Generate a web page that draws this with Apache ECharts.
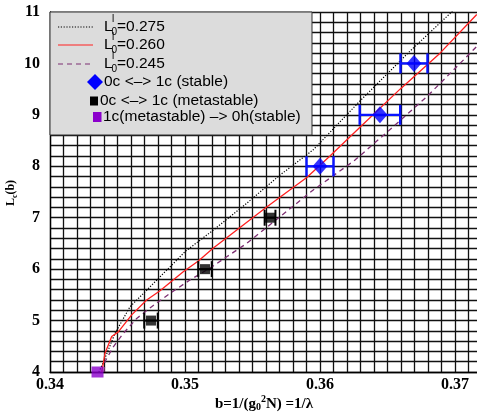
<!DOCTYPE html>
<html>
<head>
<meta charset="utf-8">
<script src="https://cdn.jsdelivr.net/npm/echarts@6/dist/echarts.min.js"></script>
<style>
html, body { margin: 0; padding: 0; background: #fff; }
#chart { width: 477px; height: 413px; }
</style>
</head>
<body>
<div id="chart"></div>
<script>
// Axis tick labels
const xTickLabels = [0.34, 0.35, 0.36, 0.37];
const yTickLabels = [4, 5, 6, 7, 8, 9, 10, 11];

// Critical length L_c(b) curves, one per L_0^l value: [b, L_c]
const curve275 = [
  [0.34362, 4.00], [0.34392, 4.17], [0.34481, 4.75], [0.34593, 5.27],
  [0.34716, 5.59], [0.34815, 5.85], [0.34914, 6.11], [0.35000, 6.34],
  [0.35210, 6.76], [0.35457, 7.28], [0.35704, 7.83], [0.35950, 8.32],
  [0.36296, 9.27], [0.36667, 10.24], [0.36963, 10.97], [0.37050, 11.20]
];
const curve260 = [
  [0.34383, 4.00], [0.34395, 4.17], [0.34407, 4.36], [0.34457, 4.69],
  [0.34506, 4.78], [0.34605, 5.11], [0.34716, 5.40], [0.34815, 5.58],
  [0.34987, 5.95], [0.35099, 6.16], [0.35210, 6.41], [0.35333, 6.66],
  [0.35605, 7.21], [0.35902, 7.78], [0.36074, 8.20], [0.36296, 8.76],
  [0.36593, 9.50], [0.36889, 10.20], [0.37161, 10.95]
];
const curve245 = [
  [0.34400, 4.00], [0.34407, 4.20], [0.34469, 4.49], [0.34543, 4.75],
  [0.34642, 5.04], [0.34753, 5.27], [0.34889, 5.53], [0.35037, 5.79],
  [0.35185, 6.02], [0.35309, 6.24], [0.35457, 6.50], [0.35704, 7.02],
  [0.35950, 7.54], [0.36074, 7.77], [0.36259, 8.12], [0.36543, 8.77],
  [0.36790, 9.35], [0.36889, 9.61], [0.37037, 10.00], [0.37161, 10.33]
];

// 0c <-> 1c (stable): b, L_c, half-width of the b uncertainty
const stableB = [0.36000, 0.36444, 0.36696];
const stableL = [8, 9, 10];
const stableErr = [0.0010, 0.0015, 0.0010];

// 0c <-> 1c (metastable)
const metaB = [0.34748, 0.35148, 0.35630];
const metaL = [5, 6, 7];
const metaErr = [0.0005, 0.0005, 0.0004];

// 1c(metastable) -> 0h(stable)
const decayB = [0.34352];
const decayL = [4];

const serifBold = { fontFamily: 'Liberation Serif', fontWeight: 'bold', color: '#000' };

function zip(a, b, c) { return a.map((v, i) => c ? [v, b[i], c[i]] : [v, b[i]]); }

function errorBars(color, width, capHalf) {
  return function (params, api) {
    const b = api.value(0), L = api.value(1), e = api.value(2);
    const p1 = api.coord([b - e, L]);
    const p2 = api.coord([b + e, L]);
    const st = { stroke: color, lineWidth: width };
    return {
      type: 'group',
      children: [
        { type: 'line', shape: { x1: p1[0], y1: p1[1], x2: p2[0], y2: p2[1] }, style: st },
        { type: 'line', shape: { x1: p1[0], y1: p1[1] - capHalf, x2: p1[0], y2: p1[1] + capHalf }, style: st },
        { type: 'line', shape: { x1: p2[0], y1: p2[1] - capHalf, x2: p2[0], y2: p2[1] + capHalf }, style: st }
      ]
    };
  };
}

const isTick = (v, list) => list.some(t => Math.abs(t - v) < 1e-7);

const LZ = 200;
const legendFont = '15.5px "Liberation Sans"';
const smallFont = '10px "Liberation Sans"';
const rowY = [27, 45, 64, 82, 101, 117];
const lineLabels = ['=0.275', '=0.260', '=0.245'];
const lineStyles = [
  { stroke: '#000', lineWidth: 1.2, lineDash: [1.2, 1.6] },
  { stroke: '#ff2020', lineWidth: 1.2 },
  { stroke: '#7d2f72', lineWidth: 1.2, lineDash: [5, 4] }
];

const legendChildren = [
  { type: 'rect', z: LZ, shape: { x: 50, y: 12, width: 262, height: 123 },
    style: { fill: '#dcdcdc', stroke: '#333', lineWidth: 1 } }
];
lineLabels.forEach((lab, i) => {
  const y = rowY[i];
  legendChildren.push(
    { type: 'line', z: LZ + 1, shape: { x1: 58, y1: y, x2: 93, y2: y }, style: lineStyles[i] },
    { type: 'text', z: LZ + 1, style: { x: 104, y: y, text: 'L', font: legendFont, fill: '#000', verticalAlign: 'middle' } },
    { type: 'text', z: LZ + 1, style: { x: 111.5, y: y + 5, text: '0', font: smallFont, fill: '#000', verticalAlign: 'middle' } },
    { type: 'text', z: LZ + 1, style: { x: 112, y: y - 8, text: 'l', font: smallFont, fill: '#000', verticalAlign: 'middle' } },
    { type: 'text', z: LZ + 1, style: { x: 117, y: y, text: lab, font: legendFont, fill: '#000', verticalAlign: 'middle' } }
  );
});
legendChildren.push(
  { type: 'polygon', z: LZ + 1, shape: { points: [[95, 74], [103, 82], [95, 90], [87, 82]] }, style: { fill: '#0000ff' } },
  { type: 'text', z: LZ + 1, style: { x: 104, y: rowY[3], text: '0c <–> 1c (stable)', font: legendFont, fill: '#000', verticalAlign: 'middle' } },
  { type: 'rect', z: LZ + 1, shape: { x: 90, y: rowY[4] - 4.5, width: 8, height: 9 }, style: { fill: '#000' } },
  { type: 'text', z: LZ + 1, style: { x: 100, y: rowY[4], text: '0c <–> 1c (metastable)', font: legendFont, fill: '#000', verticalAlign: 'middle' } },
  { type: 'rect', z: LZ + 1, shape: { x: 93, y: rowY[5] - 5, width: 8.5, height: 10 }, style: { fill: '#8b00cc' } },
  { type: 'text', z: LZ + 1, style: { x: 103, y: rowY[5], text: '1c(metastable) –> 0h(stable)', font: legendFont, fill: '#000', verticalAlign: 'middle' } }
);

const gridLine = { show: true, lineStyle: { color: '#111', width: 1.3 } };

const chart = echarts.init(document.getElementById('chart'), null, { renderer: 'canvas' });
chart.setOption({
  animation: false,
  backgroundColor: '#fff',
  grid: { left: 50, top: 12, width: 432, height: 360, containLabel: false, outerBoundsMode: 'none' },
  xAxis: {
    type: 'value', min: 0.34, max: 0.372, interval: 0.001,
    axisLine: { show: true, lineStyle: { color: '#000', width: 1.3 } },
    axisTick: { show: false },
    splitLine: gridLine,
    axisLabel: {
      interval: 0, margin: 5, fontSize: 16, ...serifBold,
      showMinLabel: true, showMaxLabel: true, hideOverlap: false,
      formatter: v => isTick(v, xTickLabels) ? v.toFixed(2) : ''
    }
  },
  yAxis: {
    type: 'value', min: 4, max: 11, interval: 0.2,
    axisLine: { show: true, lineStyle: { color: '#000', width: 1.3 } },
    axisTick: { show: false },
    splitLine: gridLine,
    axisLabel: {
      interval: 0, margin: 10, fontSize: 16, ...serifBold,
      showMinLabel: true, showMaxLabel: true, hideOverlap: false,
      formatter: v => isTick(v, yTickLabels) ? String(Math.round(v)) : ''
    }
  },
  series: [
    { type: 'line', data: curve275, showSymbol: false, z: 3,
      lineStyle: { color: '#000', width: 1.2, type: [1.2, 1.6] } },
    { type: 'line', data: curve260, showSymbol: false, z: 3,
      lineStyle: { color: '#ff2020', width: 1.3 } },
    { type: 'line', data: curve245, showSymbol: false, z: 3,
      lineStyle: { color: '#7d2f72', width: 1.3, type: [5, 4] } },
    { type: 'custom', data: zip(stableB, stableL, stableErr), z: 4,
      encode: { x: 0, y: 1 }, renderItem: errorBars('#0a14ff', 2.4, 10) },
    { type: 'custom', data: zip(metaB, metaL, metaErr), z: 4,
      encode: { x: 0, y: 1 }, renderItem: errorBars('#000', 2, 8) },
    { type: 'scatter', data: zip(stableB, stableL), z: 5,
      symbol: 'diamond', symbolSize: [15, 17], itemStyle: { color: '#0000ff' } },
    { type: 'scatter', data: zip(metaB, metaL), z: 5,
      symbol: 'rect', symbolSize: 10, itemStyle: { color: '#000' } },
    { type: 'scatter', data: zip(decayB, decayL), z: 5, clip: false,
      symbol: 'rect', symbolSize: [12, 11], itemStyle: { color: '#8b00cc' } }
  ],
  graphic: [
    { type: 'group', z: LZ, children: legendChildren },
    {
      type: 'text', z: LZ, x: 264, y: 404,
      style: {
        text: '{m|b=1/(g}{sub|0}{sup|2}{m|N) =1/λ}',
        align: 'center', verticalAlign: 'middle',
        rich: {
          m: { fontFamily: 'Liberation Serif', fontWeight: 'bold', fontSize: 15, lineHeight: 20, verticalAlign: 'middle' },
          sub: { fontFamily: 'Liberation Serif', fontWeight: 'bold', fontSize: 10, lineHeight: 20, verticalAlign: 'bottom', padding: [0, 0, 2, 0] },
          sup: { fontFamily: 'Liberation Serif', fontWeight: 'bold', fontSize: 10, lineHeight: 20, verticalAlign: 'top' }
        }
      }
    },
    {
      type: 'text', z: LZ, x: 11, y: 193, rotation: Math.PI / 2,
      style: {
        text: '{m|L}{sub|c}{m|(b)}',
        align: 'center', verticalAlign: 'middle',
        rich: {
          m: { fontFamily: 'Liberation Serif', fontWeight: 'bold', fontSize: 12, lineHeight: 16, verticalAlign: 'middle' },
          sub: { fontFamily: 'Liberation Serif', fontWeight: 'bold', fontSize: 8, lineHeight: 16, verticalAlign: 'bottom' }
        }
      }
    }
  ]
});
</script>
</body>
</html>
